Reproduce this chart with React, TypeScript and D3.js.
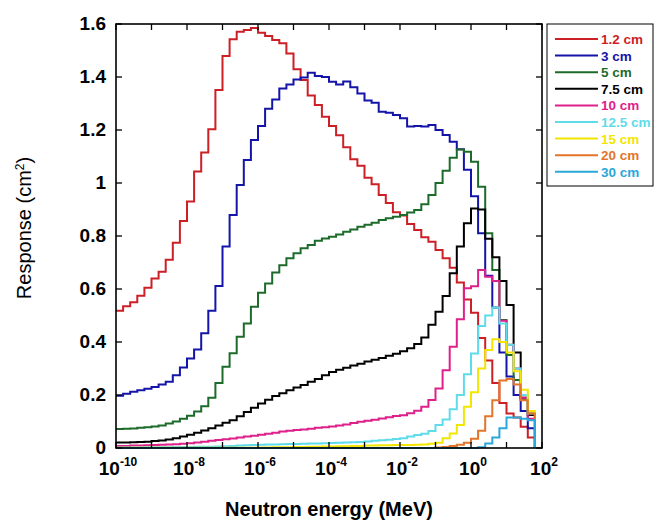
import React from 'react';
import * as d3 from 'd3';

// energy grid: bin edges as log10(E / MeV), 5 groups per decade
const edgeExponents = [
  -10, -9.8, -9.6, -9.4, -9.2, -9, -8.8, -8.6, -8.4, -8.2,
  -8, -7.8, -7.6, -7.4, -7.2, -7, -6.8, -6.6, -6.4, -6.2,
  -6, -5.8, -5.6, -5.4, -5.2, -5, -4.8, -4.6, -4.4, -4.2,
  -4, -3.8, -3.6, -3.4, -3.2, -3, -2.8, -2.6, -2.4, -2.2,
  -2, -1.8, -1.6, -1.4, -1.2, -1, -0.8, -0.6, -0.4, -0.2,
  0, 0.2, 0.4, 0.6, 0.8, 1, 1.2, 1.4, 1.6, 1.8,
];

const labels = ['1.2 cm', '3 cm', '5 cm', '7.5 cm', '10 cm', '12.5 cm', '15 cm', '20 cm', '30 cm'];
const colors = ['#cc1f26', '#1414a8', '#1d6b2a', '#000000', '#e0208a', '#5fdcea', '#f2e600', '#e2752a', '#2ba7d9'];

const r12 = [
  0.518, 0.535, 0.55, 0.575, 0.605, 0.64, 0.665, 0.71, 0.775, 0.857,
  0.93, 1.043, 1.115, 1.203, 1.351, 1.479, 1.542, 1.571, 1.577, 1.585,
  1.567, 1.555, 1.54, 1.527, 1.489, 1.429, 1.389, 1.33, 1.294, 1.25,
  1.215, 1.18, 1.135, 1.09, 1.065, 1.02, 0.995, 0.955, 0.925, 0.89,
  0.877, 0.845, 0.823, 0.795, 0.778, 0.747, 0.716, 0.68, 0.625, 0.56,
  0.51, 0.415, 0.33, 0.245, 0.17, 0.13, 0.115, 0.08, 0.04,
];
const r3 = [
  0.197, 0.205, 0.212, 0.218, 0.224, 0.23, 0.24, 0.25, 0.275, 0.304,
  0.338, 0.372, 0.433, 0.518, 0.611, 0.76, 0.879, 0.992, 1.087, 1.162,
  1.215, 1.28, 1.315, 1.357, 1.372, 1.391, 1.398, 1.416, 1.404, 1.4,
  1.382, 1.372, 1.383, 1.361, 1.338, 1.311, 1.303, 1.269, 1.265, 1.257,
  1.244, 1.213, 1.215, 1.213, 1.219, 1.2, 1.181, 1.156, 1.127, 1.05,
  0.95, 0.81, 0.65, 0.53, 0.36, 0.27, 0.2, 0.14, 0.075,
];
const r5 = [
  0.072, 0.073, 0.074, 0.076, 0.078, 0.081, 0.085, 0.092, 0.1, 0.11,
  0.122, 0.138, 0.158, 0.19, 0.245, 0.307, 0.358, 0.42, 0.47, 0.533,
  0.586, 0.621, 0.662, 0.69, 0.716, 0.735, 0.754, 0.766, 0.782, 0.791,
  0.797, 0.806, 0.816, 0.825, 0.835, 0.842, 0.85, 0.86, 0.867, 0.873,
  0.879, 0.889, 0.898, 0.92, 0.955, 1.0, 1.046, 1.095, 1.126, 1.118,
  1.08, 0.986, 0.81, 0.672, 0.483, 0.351, 0.257, 0.181, 0.13,
];
const r75 = [
  0.021, 0.021, 0.022, 0.023, 0.024, 0.026, 0.028, 0.032, 0.037, 0.043,
  0.05, 0.058, 0.066, 0.075, 0.085, 0.095, 0.105, 0.12, 0.136, 0.152,
  0.168, 0.182, 0.196, 0.207, 0.218, 0.228, 0.238, 0.25, 0.26, 0.275,
  0.287, 0.295, 0.303, 0.311, 0.318, 0.326, 0.333, 0.34, 0.348, 0.356,
  0.365, 0.376, 0.392, 0.417, 0.465, 0.514, 0.574, 0.659, 0.76, 0.848,
  0.904, 0.9, 0.79, 0.72, 0.63, 0.54, 0.36, 0.19, 0.125,
];
const r10 = [
  0.008, 0.008, 0.009, 0.009, 0.01, 0.011, 0.012, 0.013, 0.014, 0.016,
  0.018, 0.021, 0.024, 0.027, 0.03, 0.033, 0.036, 0.04, 0.043, 0.046,
  0.05, 0.054, 0.058, 0.062, 0.065, 0.068, 0.07, 0.073, 0.076, 0.078,
  0.081, 0.085, 0.089, 0.094, 0.099, 0.103, 0.107, 0.111, 0.116, 0.121,
  0.124, 0.131, 0.141, 0.156, 0.181, 0.225, 0.293, 0.382, 0.486, 0.603,
  0.61, 0.672, 0.646, 0.63, 0.48, 0.39, 0.3, 0.19, 0.11,
];
const r125 = [
  0.002, 0.002, 0.002, 0.002, 0.003, 0.003, 0.003, 0.003, 0.004, 0.004,
  0.004, 0.005, 0.005, 0.005, 0.006, 0.007, 0.008, 0.009, 0.01, 0.011,
  0.012, 0.013, 0.013, 0.014, 0.015, 0.015, 0.016, 0.017, 0.017, 0.018,
  0.019, 0.02, 0.021, 0.022, 0.023, 0.025, 0.027, 0.029, 0.031, 0.034,
  0.037, 0.043, 0.049, 0.054, 0.064, 0.087, 0.108, 0.146, 0.2, 0.278,
  0.357, 0.46, 0.5, 0.53, 0.47, 0.39, 0.3, 0.2, 0.13,
];
const r15 = [
  0.001, 0.001, 0.001, 0.001, 0.001, 0.001, 0.001, 0.001, 0.001, 0.001,
  0.001, 0.001, 0.001, 0.001, 0.001, 0.001, 0.001, 0.001, 0.001, 0.001,
  0.002, 0.002, 0.003, 0.003, 0.003, 0.004, 0.004, 0.005, 0.005, 0.006,
  0.006, 0.007, 0.007, 0.008, 0.008, 0.009, 0.009, 0.01, 0.01, 0.011,
  0.011, 0.011, 0.012, 0.013, 0.016, 0.02, 0.037, 0.055, 0.087, 0.156,
  0.21, 0.3, 0.37, 0.41, 0.4, 0.36, 0.29, 0.22, 0.14,
];
const r20 = [
  0, 0, 0, 0, 0, 0, 0, 0, 0, 0,
  0, 0, 0, 0, 0, 0, 0, 0, 0, 0,
  0, 0, 0, 0, 0, 0, 0, 0, 0, 0,
  0, 0, 0, 0, 0, 0, 0, 0, 0, 0,
  0, 0, 0, 0, 0, 0.002, 0.004, 0.008, 0.012, 0.02,
  0.035, 0.065, 0.12, 0.18, 0.255, 0.26, 0.24, 0.18, 0.13,
];
const r30 = [
  0, 0, 0, 0, 0, 0, 0, 0, 0, 0,
  0, 0, 0, 0, 0, 0, 0, 0, 0, 0,
  0, 0, 0, 0, 0, 0, 0, 0, 0, 0,
  0, 0, 0, 0, 0, 0, 0, 0, 0, 0,
  0, 0, 0, 0, 0, 0, 0, 0, 0, 0,
  0, 0.003, 0.017, 0.04, 0.075, 0.115, 0.115, 0.11, 0.105,
];
const series = [r12, r3, r5, r75, r10, r125, r15, r20, r30];

const xTickExps = [-10, -9, -8, -7, -6, -5, -4, -3, -2, -1, 0, 1, 2];
const xLabelExps = [-10, -8, -6, -4, -2, 0, 2];
const yTicks = [0, 0.2, 0.4, 0.6, 0.8, 1, 1.2, 1.4, 1.6];
const yTickLabels = ['0', '0.2', '0.4', '0.6', '0.8', '1', '1.2', '1.4', '1.6'];

const font = "Arial, 'Liberation Sans', sans-serif";

const App = () => {
  const width = 655;
  const height = 521;
  const plot = { left: 116, right: 542, top: 24, bottom: 448 };

  const x = d3.scaleLog().domain([1e-10, 1e2]).range([plot.left, plot.right]);
  const y = d3.scaleLinear().domain([0, 1.6]).range([plot.bottom, plot.top]);

  // step histogram: each group value holds from its lower edge to the next
  const line = d3
    .line<[number, number]>()
    .x(d => x(Math.pow(10, d[0])))
    .y(d => y(d[1]))
    .curve(d3.curveStepAfter);

  const paths = series.map(vals => {
    const pts: [number, number][] = vals.map((v, i) => [edgeExponents[i], v]);
    pts.push([edgeExponents[vals.length], vals[vals.length - 1]]);
    pts.push([edgeExponents[vals.length], 0]);
    return line(pts);
  });

  const tickLen = 6;

  return (
    <svg width={width} height={height} style={{ position: 'absolute', left: 0, top: 0, background: '#fff' }} fontFamily={font}>
      <rect x={0} y={0} width={width} height={height} fill="#fff" />

      {paths.map((d, i) => (
        <path key={i} d={d || ''} fill="none" stroke={colors[i]} strokeWidth={2} />
      ))}

      {/* frame and inward ticks */}
      <rect x={plot.left} y={plot.top} width={plot.right - plot.left} height={plot.bottom - plot.top}
        fill="none" stroke="#000" strokeWidth={1.6} />
      {xTickExps.map(e => {
        const xp = x(Math.pow(10, e));
        return (
          <g key={'xt' + e} stroke="#000" strokeWidth={1.3}>
            <line x1={xp} x2={xp} y1={plot.bottom} y2={plot.bottom - tickLen} />
            <line x1={xp} x2={xp} y1={plot.top} y2={plot.top + tickLen} />
          </g>
        );
      })}
      {yTicks.map(t => (
        <g key={'yt' + t} stroke="#000" strokeWidth={1.3}>
          <line x1={plot.left} x2={plot.left + tickLen} y1={y(t)} y2={y(t)} />
          <line x1={plot.right} x2={plot.right - tickLen} y1={y(t)} y2={y(t)} />
        </g>
      ))}

      {/* tick labels */}
      {yTicks.map((t, i) => (
        <text key={'yl' + t} x={106} y={y(t) + 6} textAnchor="end" fontSize={19} fontWeight="bold">
          {yTickLabels[i]}
        </text>
      ))}
      {xLabelExps.map(e => (
        <text key={'xl' + e} x={x(Math.pow(10, e)) + 2} y={475} textAnchor="middle" fontSize={19} fontWeight="bold">
          10<tspan dy={-9} fontSize={12}>{e}</tspan>
        </text>
      ))}

      {/* axis titles */}
      <text x={(plot.left + plot.right) / 2} y={516} textAnchor="middle" fontSize={20} fontWeight="bold">
        Neutron energy (MeV)
      </text>
      <text transform="translate(31,228) rotate(-90)" textAnchor="middle" fontSize={20}>
        Response (cm<tspan dy={-7} fontSize={12}>2</tspan><tspan dy={7}>)</tspan>
      </text>

      {/* legend */}
      <rect x={547} y={24} width={106} height={162} fill="#fff" stroke="#000" strokeWidth={1} />
      {labels.map((lab, i) => {
        const yy = 39 + i * 16.6;
        return (
          <g key={lab}>
            <line x1={555} x2={598} y1={yy} y2={yy} stroke={colors[i]} strokeWidth={2} />
            <text x={601} y={yy + 5} fontSize={13.5} fontWeight="bold" fill={colors[i]}>{lab}</text>
          </g>
        );
      })}
    </svg>
  );
};

export default App;
